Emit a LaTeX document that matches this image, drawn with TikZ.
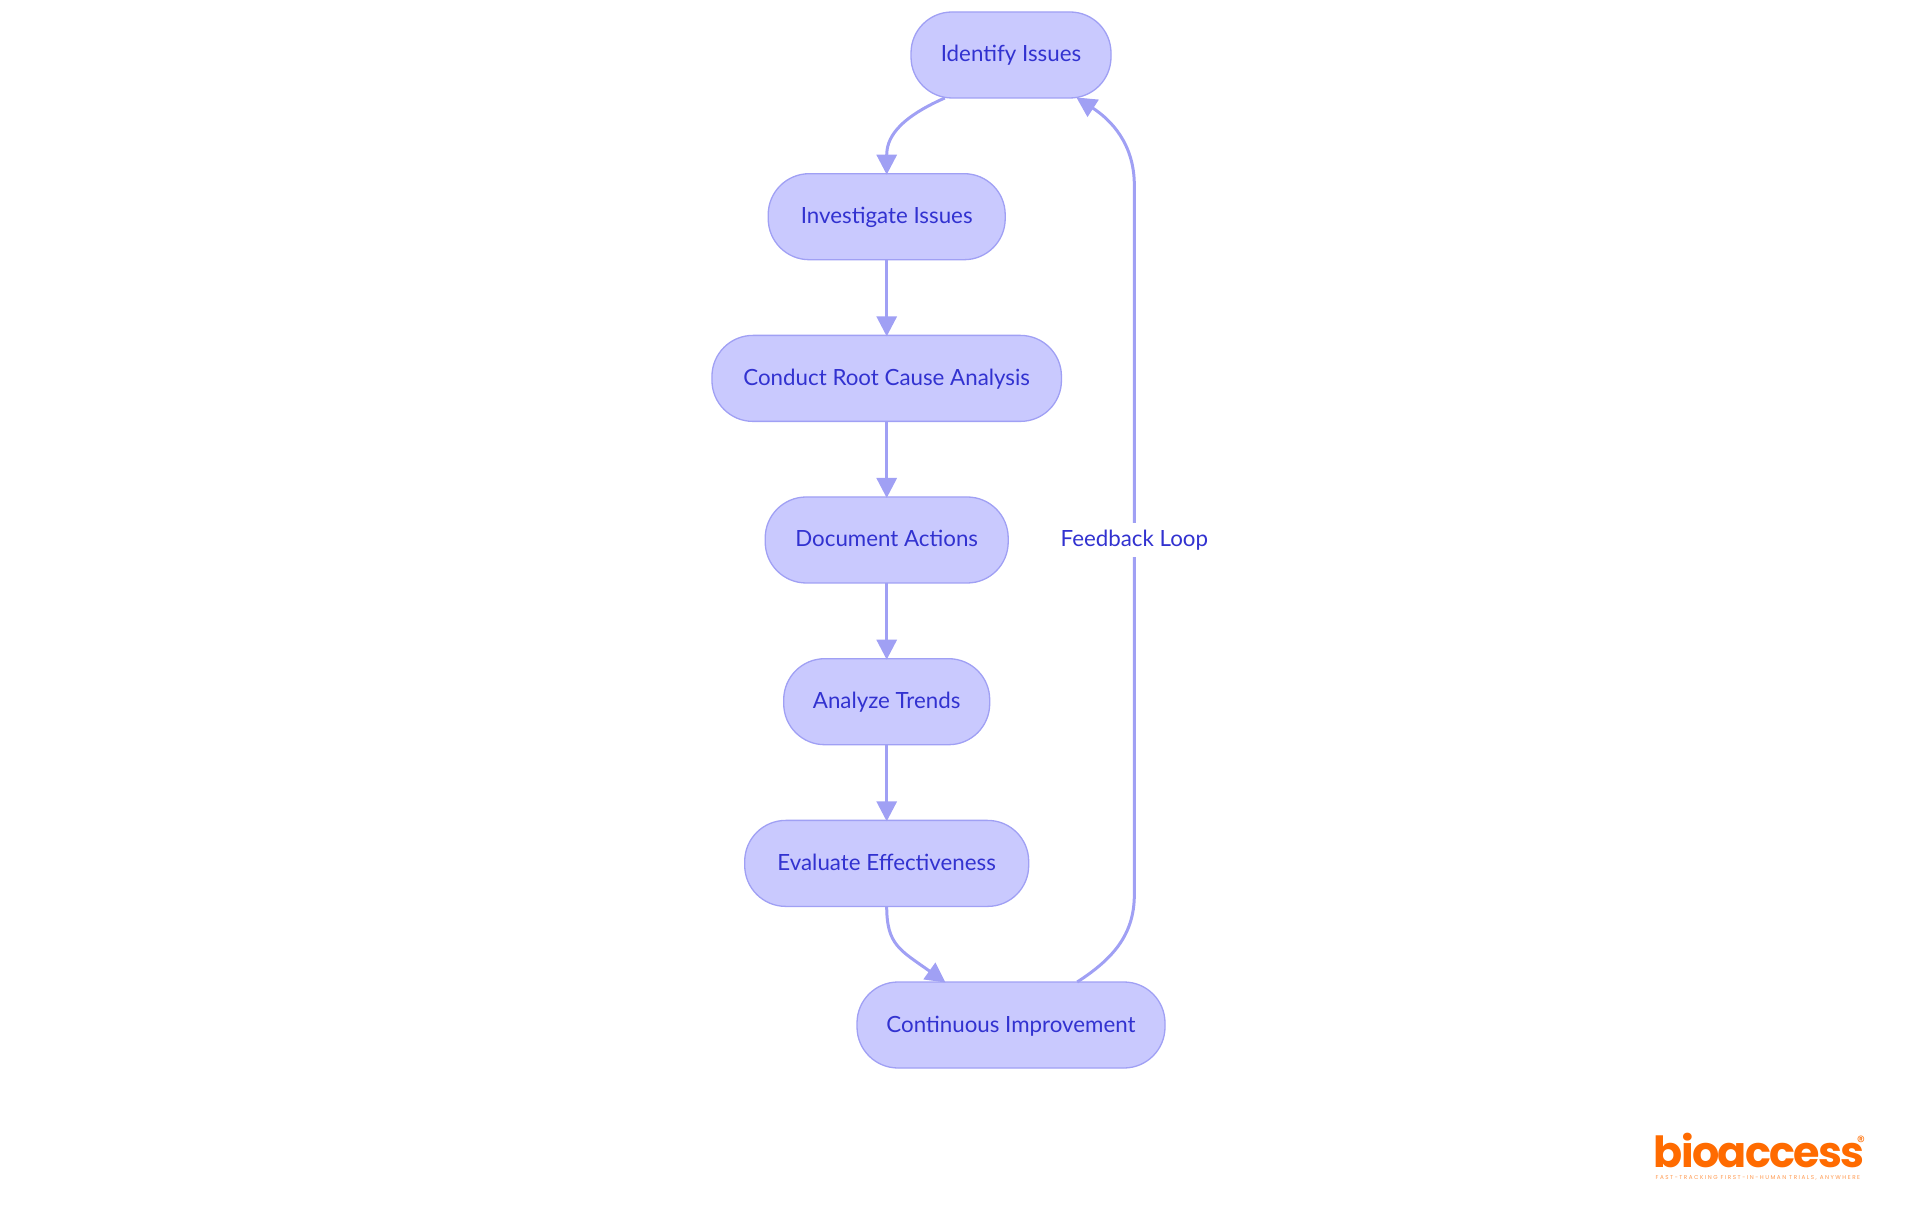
\documentclass[tikz,border=0pt]{standalone}
\usepackage{fontspec}
\setmainfont{Lato}
\newfontfamily\logofont[LetterSpace=-4]{Poppins}
\newfontfamily\tagfont[LetterSpace=27]{Poppins}
\usetikzlibrary{arrows.meta}
\definecolor{boxfill}{HTML}{C9C9FE}
\definecolor{boxline}{HTML}{A0A0F4}
\definecolor{boxtext}{HTML}{3232D0}
\definecolor{logoorange}{HTML}{FF6B00}
\tikzset{
  stepbox/.style={draw=boxline, line width=0.013cm, fill=boxfill, text=boxtext, rounded corners=0.41cm,
    minimum height=0.86cm, inner sep=0pt, outer sep=0pt, text height=0.17cm, text depth=0.03cm,
    font=\fontsize{6.35pt}{7pt}\selectfont},
  flow/.style={draw=boxline, line width=0.03cm, shorten >=-0.01cm, -{Triangle[length=0.2cm,width=0.2cm]}},
  looplabel/.style={fill=white, text=boxtext, inner sep=2pt, font=\fontsize{6.35pt}{7pt}\selectfont}
}
\begin{document}
\begin{tikzpicture}
  \useasboundingbox (0,0) rectangle (19.2,12.15);
  \node [stepbox, minimum width=2.00cm] (identify) at (10.11,11.60) {Identify Issues};
  \node [stepbox, minimum width=2.37cm] (investigate) at (8.867,9.983) {Investigate Issues};
  \node [stepbox, minimum width=3.495cm] (rootcause) at (8.867,8.366) {Conduct Root Cause Analysis};
  \node [stepbox, minimum width=2.43cm] (document) at (8.867,6.75) {Document Actions};
  \node [stepbox, minimum width=2.06cm] (trends) at (8.867,5.133) {Analyze Trends};
  \node [stepbox, minimum width=2.84cm] (evaluate) at (8.867,3.516) {Evaluate Effectiveness};
  \node [stepbox, minimum width=3.08cm] (continuous) at (10.11,1.90) {Continuous Improvement};
  \coordinate (loopbottom) at (11.343,3.2);
  \coordinate (looptop) at (11.343,10.3);
  \draw [flow] (identify.-147) .. controls (8.95,10.95) and (8.867,10.75) .. (investigate.north);
  \draw [flow] (investigate) -- (rootcause);
  \draw [flow] (rootcause) -- (document);
  \draw [flow] (document) -- (trends);
  \draw [flow] (trends) -- (evaluate);
  \draw [flow] (evaluate.south) .. controls (8.867,2.70) and (9.00,2.65) .. (continuous.147);
  \draw [flow] (continuous.33) to[out=33, in=-90] (loopbottom) -- node [looplabel] (feedback) {Feedback Loop} (looptop) to[out=90, in=-33] (identify.-33);
  \node [text=logoorange, inner sep=0pt, anchor=base west, text depth=0pt, font=\logofont\bfseries\fontsize{12.2pt}{13pt}\selectfont] (logo) at (16.53,0.48) {bioaccess};
  \node [text=logoorange, inner sep=0pt, font=\logofont\fontsize{4.6pt}{5pt}\selectfont] (registered) at (18.61,0.73) {\textregistered};
  \node [text=logoorange!70, inner sep=0pt, anchor=base west, text height=0.04cm, text depth=0pt, font=\tagfont\fontsize{1.6pt}{2pt}\selectfont] (tagline) at (16.55,0.36) {FAST-TRACKING FIRST-IN-HUMAN TRIALS, ANYWHERE};
\end{tikzpicture}
\end{document}
